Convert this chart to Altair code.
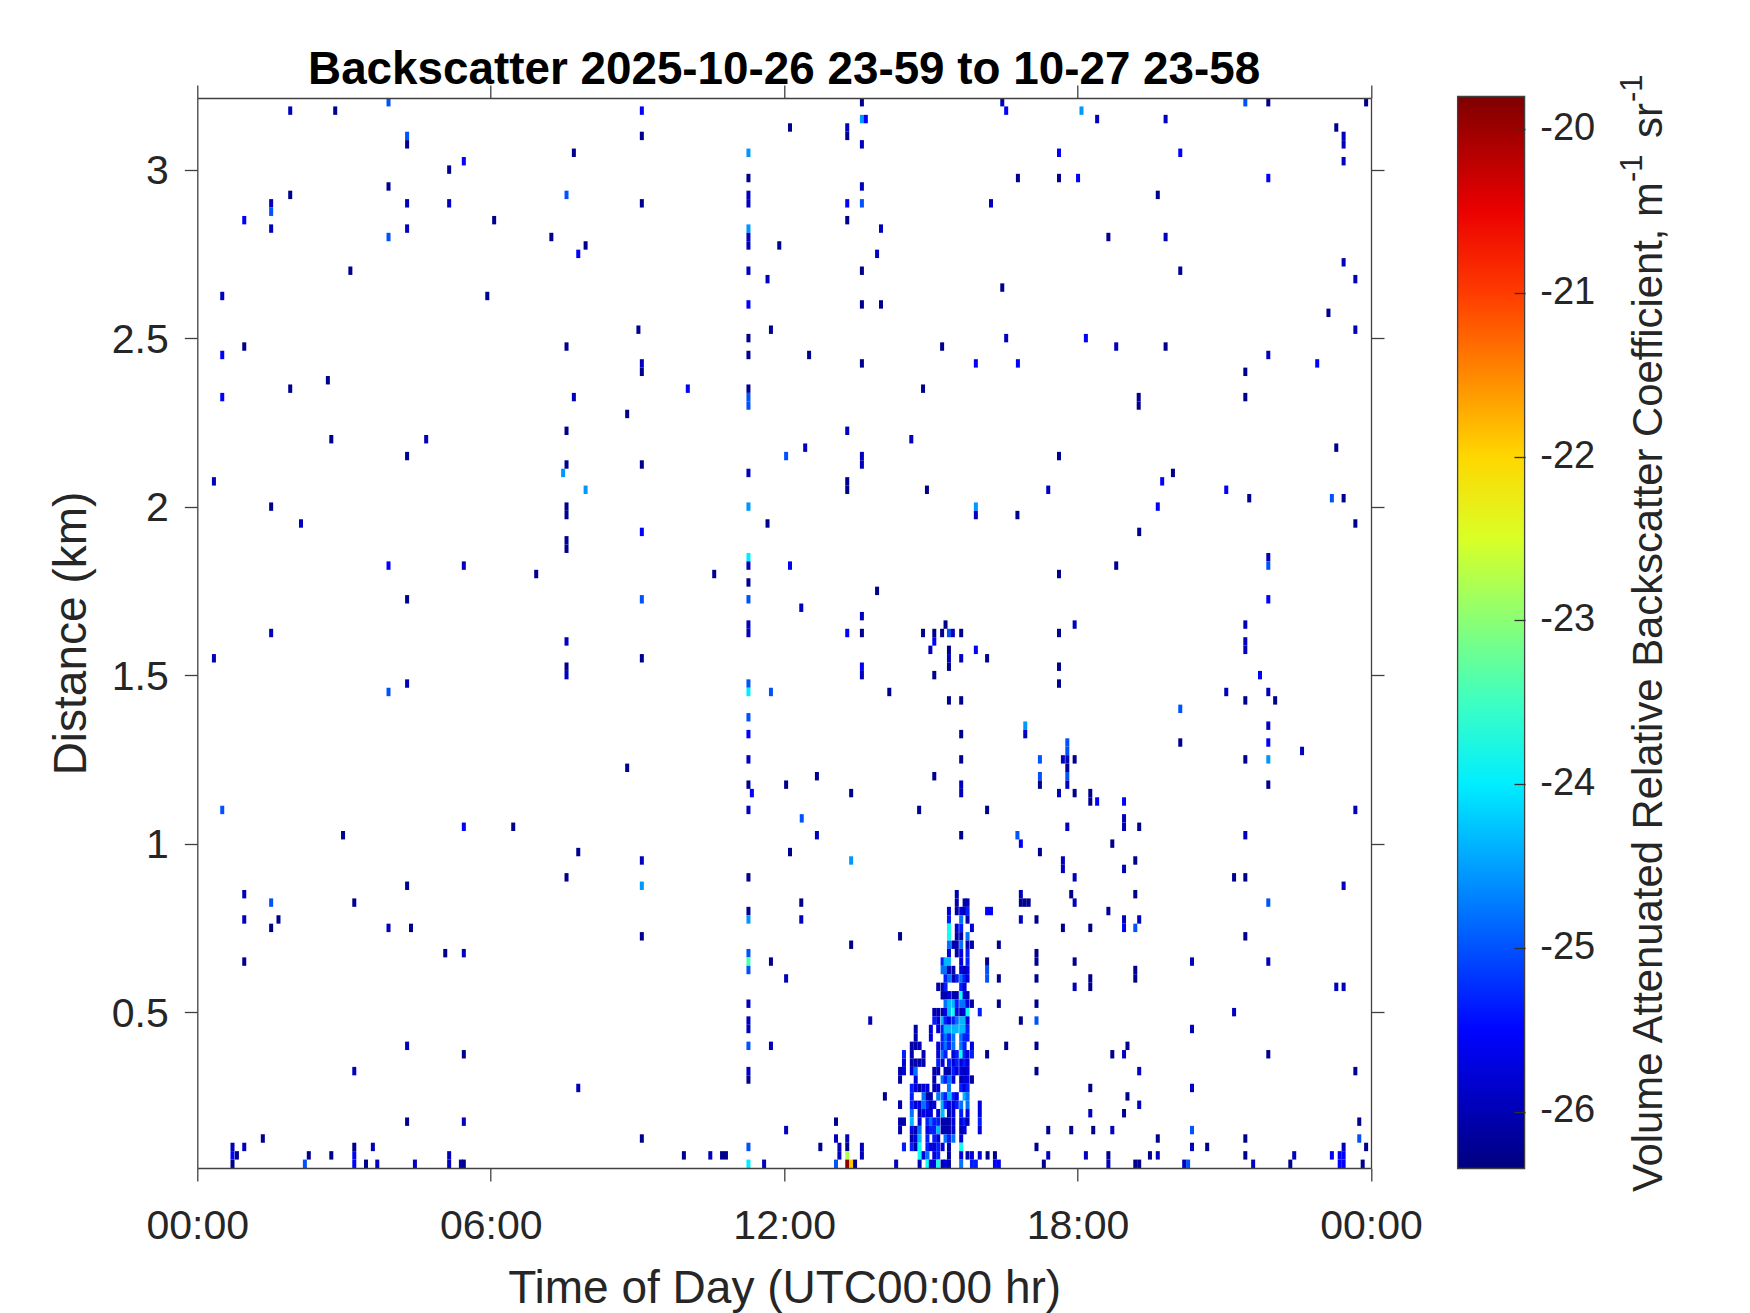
import altair as alt
import pandas as pd

# ---- colour levels (dB-like units of the bar) ----
D, N, B, L, S, C = -26.25, -25.95, -25.55, -25.0, -24.55, -24.0
GREEN, LIME, AMBER, DARKRED = -23.4, -22.8, -21.9, -19.9

TITLE = "Backscatter 2025-10-26 23-59 to 10-27 23-58"
X_TITLE = "Time of Day (UTC00:00 hr)"
Y_TITLE = "Distance (km)"
CB_TITLE = "Volume Attenuated Relative Backscatter Coefficient, m"
X_TICKS = [0, 6, 12, 18, 24]
Y_TICKS = [0.5, 1, 1.5, 2, 2.5, 3]
CB_TICKS = [-26, -25, -24, -23, -22, -21, -20]
CB_DOMAIN = [-26.35, -25.53, -23.89, -22.26, -20.62, -19.8]
CB_COLORS = ["#00007f", "#0000ff", "#00ffff", "#ffff00", "#ff0000", "#7f0000"]

# (hour, km, value)
CELLS_TOP_LEFT = [
    (1.90,3.175,N),(2.82,3.175,D),(3.91,3.2,L),(4.29,3.1,L),(4.29,3.075,D),(7.70,3.05,D),(5.45,3.025,B),
    (5.15,3.0,D),(3.91,2.95,D),(1.90,2.925,D),(7.55,2.925,L),(1.51,2.9,N),(1.51,2.875,L),(4.29,2.9,N),
    (5.15,2.9,N),(0.96,2.85,B),(6.07,2.85,D),(1.51,2.825,N),(4.29,2.825,N),(3.91,2.8,L),(7.24,2.8,D),
    (7.94,2.775,D),(7.79,2.75,B),(3.13,2.7,D),(0.51,2.625,N),(5.93,2.625,D),(0.96,2.475,D),(7.55,2.475,D),
    (0.51,2.45,B),(2.67,2.375,D),(1.90,2.35,D),(0.51,2.325,B),(7.70,2.325,N),(7.55,2.225,D),(2.74,2.2,D),
    (4.68,2.2,N),(4.29,2.15,D),
]
CELLS_TOP_CENTER = [
    (9.09,3.175,B),(13.59,3.2,D),(13.59,3.15,S),(13.67,3.15,B),(12.12,3.125,D),(13.29,3.125,N),(13.29,3.1,D),
    (9.09,3.1,D),(13.59,3.075,N),(11.27,3.05,S),(11.27,2.975,D),(13.59,2.95,N),(11.27,2.925,N),(11.27,2.9,N),
    (9.09,2.9,D),(13.29,2.9,B),(13.59,2.9,L),(13.29,2.85,D),(11.27,2.825,S),(11.27,2.8,N),(11.27,2.775,N),
    (13.98,2.825,N),(11.90,2.775,D),(13.90,2.75,N),(11.27,2.7,N),(13.59,2.7,D),(11.66,2.675,N),(11.27,2.6,B),
    (13.59,2.6,D),(13.98,2.6,D),(9.02,2.525,D),(11.73,2.525,D),(11.27,2.5,D),(15.23,2.475,D),(11.27,2.45,D),
    (12.51,2.45,D),(9.09,2.425,N),(9.09,2.4,D),(13.59,2.425,D),(15.92,2.425,B),(10.03,2.35,B),(11.27,2.35,D),
    (11.27,2.325,L),(11.27,2.3,L),(14.84,2.35,D),(8.79,2.275,D),(13.29,2.225,N),(14.60,2.2,N),(12.43,2.175,N),
    (12.04,2.15,L),(13.59,2.15,N),
]
CELLS_TOP_RIGHT = [
    (16.46,3.2,N),(16.54,3.175,B),(18.08,3.175,S),(18.40,3.15,N),(19.80,3.15,N),(21.43,3.2,L),(21.90,3.2,D),
    (23.90,3.2,D),(23.29,3.125,D),(23.44,3.1,N),(23.44,3.075,N),(17.62,3.05,B),(20.10,3.05,B),(23.44,3.025,N),
    (16.78,2.975,D),(17.62,2.975,D),(18.01,2.975,B),(21.90,2.975,B),(19.64,2.925,D),(16.23,2.9,N),(18.63,2.8,D),
    (19.80,2.8,N),(23.44,2.725,N),(20.10,2.7,D),(23.68,2.675,N),(16.46,2.65,D),(23.13,2.575,D),(23.68,2.525,N),
    (16.54,2.5,N),(18.17,2.5,B),(18.79,2.475,N),(19.80,2.475,D),(21.90,2.45,N),(16.78,2.425,B),(22.90,2.425,B),
    (21.43,2.4,D),(19.25,2.325,D),(19.25,2.3,D),(21.43,2.325,D),(17.62,2.15,D),(23.29,2.175,D),
]
CELLS_MID_LEFT = [
    (7.55,2.125,D),(7.48,2.1,S),(0.34,2.075,N),(7.94,2.05,S),(1.51,2.0,D),(7.55,2.0,D),(7.55,1.975,D),(2.12,1.95,N),
    (7.55,1.9,D),(7.55,1.875,D),(3.91,1.825,B),(5.45,1.825,N),(6.93,1.8,D),(4.29,1.725,D),(7.55,1.6,N),(1.51,1.625,N),
    (0.34,1.55,N),(7.55,1.525,D),(7.55,1.5,N),(4.29,1.475,N),(3.91,1.45,L),(0.51,1.1,L),
]
CELLS_MID_CENTER = [
    (9.09,2.125,D),(11.27,2.1,N),(13.59,2.125,N),(13.29,2.075,D),(13.29,2.05,D),(14.92,2.05,D),(11.27,2.0,S),(15.92,2.0,S),
    (15.92,1.975,N),(11.66,1.95,D),(9.09,1.925,B),(11.27,1.85,C),(11.27,1.825,N),(12.12,1.825,B),(10.57,1.8,D),(11.27,1.775,D),
    (13.90,1.75,D),(9.09,1.725,L),(11.27,1.725,L),(12.35,1.7,N),(13.59,1.675,N),(15.30,1.65,D),(11.27,1.65,N),(11.27,1.625,N),
    (13.29,1.625,B),(13.59,1.625,D),(14.84,1.625,D),(15.07,1.625,D),(15.23,1.625,D),(15.37,1.625,L),(15.45,1.625,N),(15.62,1.625,D),
    (15.07,1.6,B),(14.99,1.575,N),(15.37,1.575,D),(15.37,1.55,N),(15.37,1.525,D),(15.92,1.575,B),(15.62,1.55,N),(9.09,1.55,D),
    (13.59,1.525,B),(13.59,1.5,N),(15.07,1.5,D),(11.27,1.475,L),(11.27,1.45,C),(11.73,1.45,L),(14.15,1.45,D),(15.37,1.425,D),
    (15.62,1.425,D),(11.27,1.375,L),(11.27,1.325,B),(15.62,1.325,D),(11.27,1.25,N),(15.62,1.25,D),(8.79,1.225,D),(12.67,1.2,D),
    (15.07,1.2,D),(11.27,1.175,D),(12.04,1.175,D),(15.62,1.175,N),(15.62,1.15,N),(11.34,1.15,B),(13.37,1.15,D),(11.27,1.1,N),(14.76,1.1,D),
]
CELLS_MID_RIGHT = [
    (19.95,2.1,D),(19.73,2.075,B),(17.40,2.05,N),(21.04,2.05,B),(21.51,2.025,D),(23.20,2.025,L),(23.44,2.025,D),(19.64,2.0,B),
    (16.77,1.975,D),(23.68,1.95,D),(19.26,1.925,D),(21.90,1.85,N),(21.90,1.825,L),(18.79,1.825,D),(17.62,1.8,D),(21.90,1.725,B),
    (17.94,1.65,N),(21.43,1.65,N),(17.62,1.625,D),(21.43,1.6,N),(21.43,1.575,N),(16.15,1.55,D),(17.62,1.525,D),(17.62,1.475,D),
    (21.73,1.5,B),(21.04,1.45,N),(21.90,1.45,N),(21.43,1.425,D),(22.04,1.425,D),(20.10,1.4,L),(16.93,1.35,S),(16.93,1.325,N),
    (21.90,1.35,N),(17.79,1.3,L),(17.79,1.275,L),(17.79,1.25,N),(17.79,1.225,D),(17.79,1.2,L),(17.79,1.175,N),(17.70,1.25,N),
    (17.94,1.25,D),(17.23,1.25,L),(17.23,1.2,L),(17.23,1.175,D),(20.10,1.3,D),(21.90,1.3,B),(22.59,1.275,N),(21.43,1.25,D),
    (21.90,1.25,S),(21.90,1.175,D),(17.62,1.15,N),(17.94,1.15,D),(18.26,1.15,D),(18.26,1.125,D),(18.40,1.125,B),(18.95,1.125,B),
    (16.15,1.1,D),(23.68,1.1,N),
]
CELLS_LOW_LEFT = [
    (5.45,1.05,B),(6.46,1.05,D),(2.98,1.025,D),(7.79,0.975,D),(7.55,0.9,D),(4.29,0.875,D),(0.96,0.85,N),(1.51,0.825,L),
    (3.21,0.825,D),(0.96,0.775,N),(1.66,0.775,D),(1.51,0.75,D),(3.91,0.75,N),(4.37,0.75,D),(5.07,0.675,D),(5.45,0.675,N),
    (0.96,0.65,D),(4.29,0.4,N),(5.45,0.375,D),(3.21,0.325,N),(7.79,0.275,N),(4.29,0.175,D),(5.45,0.175,N),(1.34,0.125,D),
    (0.72,0.1,N),(0.72,0.075,B),(0.72,0.05,D),(0.81,0.075,D),(0.96,0.1,N),(2.28,0.075,D),(2.20,0.05,L),(2.74,0.075,D),
    (3.21,0.1,D),(3.21,0.075,B),(3.21,0.05,B),(3.59,0.1,N),(3.45,0.05,D),(3.68,0.05,N),(4.45,0.05,N),(5.15,0.075,N),
    (5.15,0.05,N),(5.39,0.05,N),(5.45,0.05,D),
]
CELLS_LOW_CENTER = [
    (9.09,0.95,N),(13.37,0.95,S),(12.36,1.075,L),(12.67,1.025,N),(15.62,1.025,D),(12.12,0.975,D),(11.27,0.9,D),(9.09,0.875,S),
    (12.35,0.825,D),(11.27,0.8,D),(11.27,0.775,S),(12.35,0.775,N),(9.09,0.725,D),(14.37,0.725,D),(13.37,0.7,D),(11.27,0.675,L),
    (11.27,0.65,GREEN),(11.27,0.625,L),(11.73,0.65,D),(12.04,0.6,N),(11.27,0.525,N),(11.27,0.475,N),(11.27,0.45,N),(13.76,0.475,N),
    (11.27,0.4,L),(11.73,0.4,N),(11.27,0.325,N),(11.27,0.3,D),(14.06,0.25,D),(14.37,0.225,D),(9.09,0.125,D),(12.04,0.15,N),
    (11.27,0.1,L),(11.27,0.05,C),(9.95,0.075,D),(10.49,0.075,N),(10.73,0.075,D),(10.81,0.075,D),(11.59,0.05,N),(12.74,0.1,D),
    (13.06,0.175,D),(13.06,0.125,N),(13.13,0.1,N),(13.13,0.075,N),(13.06,0.05,L),(13.29,0.125,N),(13.29,0.1,D),(13.29,0.075,LIME),
    (13.29,0.05,DARKRED),(13.37,0.05,AMBER),(13.45,0.05,D),(13.59,0.1,N),(13.59,0.075,N),(14.29,0.05,N),(14.45,0.1,N),
]
CELLS_LOW_RIGHT = [
    (17.79,1.05,N),(18.95,1.075,N),(18.95,1.05,N),(19.26,1.05,D),(16.77,1.025,L),(16.84,1.0,B),(18.71,1.0,D),(21.43,1.025,N),
    (17.23,0.975,D),(17.70,0.95,N),(17.70,0.925,N),(19.18,0.95,D),(18.95,0.925,N),(17.94,0.9,N),(21.20,0.9,D),(21.43,0.9,D),
    (23.44,0.875,N),(16.84,0.85,N),(17.87,0.85,D),(19.18,0.85,D),(16.84,0.825,D),(16.92,0.825,D),(17.00,0.825,D),(17.94,0.825,N),
    (21.90,0.825,L),(16.15,0.8,B),(16.23,0.8,B),(18.63,0.8,D),(16.84,0.775,N),(17.16,0.775,D),(18.95,0.775,N),(18.95,0.75,B),
    (19.26,0.775,N),(19.18,0.75,L),(17.70,0.75,D),(18.26,0.75,D),(21.43,0.725,D),(16.39,0.7,D),(17.16,0.675,D),(17.16,0.65,D),
    (16.15,0.65,D),(16.15,0.625,L),(16.15,0.6,L),(17.94,0.65,D),(20.34,0.65,N),(21.90,0.65,N),(16.39,0.6,D),(17.16,0.6,D),
    (18.26,0.6,D),(18.26,0.575,D),(19.18,0.625,D),(19.18,0.6,D),(17.94,0.575,N),(23.29,0.575,N),(23.44,0.575,N),(16.39,0.525,D),
    (17.16,0.525,D),(21.20,0.5,N),(16.84,0.475,D),(17.16,0.475,L),(20.34,0.45,N),(16.54,0.4,D),(17.16,0.4,D),(19.02,0.4,D),
    (16.15,0.375,D),(18.71,0.375,D),(18.95,0.375,N),(21.90,0.375,D),(17.16,0.325,D),(19.26,0.325,N),(23.68,0.325,D),(18.26,0.275,D),
    (20.34,0.275,N),(19.02,0.25,D),(19.26,0.225,N),(18.26,0.2,N),(18.95,0.2,D),(17.40,0.15,D),(17.87,0.15,D),(18.32,0.15,D),
    (18.71,0.15,N),(20.34,0.15,L),(23.76,0.175,D),(19.64,0.125,D),(21.43,0.125,D),(23.76,0.125,L),(17.16,0.1,D),(20.34,0.1,N),
    (20.65,0.1,D),(23.44,0.1,N),(23.90,0.1,D),(16.16,0.075,D),(16.31,0.075,D),(16.31,0.05,B),(16.39,0.05,B),(17.40,0.075,N),
    (17.31,0.05,D),(18.17,0.075,N),(18.63,0.075,D),(18.63,0.05,N),(19.48,0.075,D),(19.64,0.075,N),(19.18,0.05,D),(19.26,0.05,D),
    (20.18,0.05,N),(20.26,0.05,L),(21.43,0.075,D),(21.59,0.05,N),(22.35,0.05,D),(22.43,0.075,N),(23.20,0.075,B),(23.36,0.075,B),
    (23.44,0.075,B),(23.36,0.05,B),(23.44,0.05,B),(23.83,0.05,D),
]
# the plume: one entry per range gate, (km, [(hour, value), ...])
PLUME_UPPER = [
    (0.85,[(15.53,D)]),
    (0.825,[(15.53,D),(15.69,D),(15.75,D)]),
    (0.8,[(15.37,N),(15.53,D),(15.62,N),(15.69,D),(15.75,B)]),
    (0.775,[(15.37,B),(15.62,L),(15.75,D)]),
    (0.75,[(15.37,C),(15.53,N),(15.62,B),(15.84,N)]),
    (0.725,[(15.37,C),(15.53,D),(15.62,D),(15.75,L)]),
    (0.7,[(15.37,L),(15.46,D),(15.53,D),(15.62,L),(15.75,D),(15.84,D)]),
    (0.675,[(15.37,N),(15.53,D),(15.62,N),(15.75,B)]),
    (0.65,[(15.24,B),(15.30,S),(15.37,S),(15.62,N),(15.75,B)]),
    (0.625,[(15.24,L),(15.30,L),(15.37,D),(15.46,D),(15.62,N),(15.69,D),(15.75,N)]),
    (0.6,[(15.30,B),(15.37,L),(15.46,D),(15.53,B),(15.62,L),(15.69,B),(15.75,N)]),
    (0.575,[(15.15,D),(15.24,D),(15.30,B),(15.62,B),(15.69,N)]),
    (0.55,[(15.24,D),(15.30,D),(15.37,N),(15.46,D),(15.53,D),(15.62,C),(15.69,N),(15.75,D)]),
    (0.525,[(15.30,L),(15.37,S),(15.46,S),(15.53,B),(15.62,L),(15.69,L),(15.75,N),(15.84,D)]),
    (0.5,[(15.07,D),(15.15,D),(15.24,D),(15.30,N),(15.37,S),(15.46,C),(15.53,N),(15.62,D),(15.69,N),(15.75,C),(16.0,B)]),
    (0.475,[(15.07,B),(15.15,N),(15.24,S),(15.30,B),(15.37,N),(15.46,B),(15.53,L),(15.62,S),(15.69,S),(15.75,N)]),
    (0.45,[(14.69,D),(15.0,N),(15.15,N),(15.24,B),(15.30,S),(15.37,S),(15.46,S),(15.53,S),(15.62,S),(15.69,S),(15.75,B)]),
    (0.425,[(14.69,D),(15.0,N),(15.24,B),(15.30,L),(15.37,B),(15.46,L),(15.62,L),(15.69,B),(15.75,B)]),
]
PLUME_LOWER = [
    (0.4,[(14.61,D),(14.69,D),(14.77,D),(15.15,N),(15.24,B),(15.30,L),(15.37,B),(15.46,L),(15.62,L),(15.69,B),(15.84,N)]),
    (0.375,[(14.45,B),(14.61,D),(14.85,D),(15.15,N),(15.24,L),(15.30,B),(15.46,N),(15.53,B),(15.62,C),(15.69,B),(15.75,N),(15.84,B)]),
    (0.35,[(14.45,N),(14.61,D),(14.69,D),(14.77,D),(14.85,D),(15.15,B),(15.24,N),(15.37,B),(15.46,N),(15.53,B),(15.62,N),(15.69,B),(15.75,N)]),
    (0.325,[(14.37,D),(14.45,N),(14.61,N),(14.69,L),(15.07,D),(15.15,D),(15.30,D),(15.37,D),(15.46,B),(15.53,N),(15.62,N),(15.69,D),(15.75,N)]),
    (0.3,[(14.37,D),(14.69,N),(15.07,D),(15.24,L),(15.30,B),(15.37,L),(15.46,N),(15.62,D),(15.69,N),(15.75,N),(15.84,D)]),
    (0.275,[(14.61,B),(14.69,N),(14.77,D),(14.85,N),(14.93,N),(15.07,D),(15.15,N),(15.37,L),(15.62,B),(15.69,N),(15.75,B)]),
    (0.25,[(14.61,B),(14.85,L),(14.93,D),(15.0,D),(15.15,L),(15.24,L),(15.30,B),(15.37,S),(15.46,B),(15.53,N),(15.69,S),(15.75,L)]),
    (0.225,[(14.37,D),(14.61,B),(14.69,N),(14.77,N),(14.85,L),(14.93,B),(15.0,D),(15.07,N),(15.24,S),(15.30,B),(15.37,N),(15.46,N),(15.53,B),(15.62,L),(15.75,L),(16.0,N)]),
    (0.2,[(14.61,L),(14.77,D),(14.85,N),(14.93,N),(15.0,N),(15.15,N),(15.24,S),(15.37,D),(15.46,N),(15.62,B),(15.75,N),(16.0,N)]),
    (0.175,[(14.37,D),(14.45,D),(14.61,S),(14.77,N),(14.93,B),(15.0,L),(15.07,B),(15.15,B),(15.24,D),(15.30,D),(15.37,D),(15.46,N),(15.62,N),(15.69,B),(15.75,D),(16.0,B)]),
    (0.15,[(14.37,D),(14.61,N),(14.69,D),(14.77,L),(14.93,N),(15.0,B),(15.07,B),(15.15,S),(15.24,D),(15.30,D),(15.37,D),(15.46,N),(15.62,D),(15.69,N),(16.0,N)]),
    (0.125,[(14.61,D),(14.69,N),(14.77,S),(14.93,B),(15.07,B),(15.15,N),(15.30,L),(15.37,B),(15.46,L),(15.62,N)]),
    (0.1,[(14.45,B),(14.61,B),(14.69,D),(14.77,C),(14.93,B),(15.0,N),(15.07,N),(15.15,B),(15.24,N),(15.37,D),(15.62,C)]),
    (0.075,[(14.77,C),(14.85,N),(14.93,L),(15.07,N),(15.15,B),(15.37,D),(15.62,N),(15.75,D),(15.84,N),(16.0,N)]),
    (0.05,[(14.77,D),(14.93,C),(15.0,N),(15.07,N),(15.15,C),(15.24,D),(15.30,N),(15.37,D),(15.62,L),(15.84,B),(15.92,B)]),
]

rows = (CELLS_TOP_LEFT + CELLS_TOP_CENTER + CELLS_TOP_RIGHT + CELLS_MID_LEFT + CELLS_MID_CENTER
        + CELLS_MID_RIGHT + CELLS_LOW_LEFT + CELLS_LOW_CENTER + CELLS_LOW_RIGHT)
for km, cells in PLUME_UPPER + PLUME_LOWER:
    rows += [(h, km, v + 0.2) for h, v in cells]

df = pd.DataFrame(rows, columns=["hour", "km", "value"])
HALF_BIN, HALF_GATE = 0.041, 0.0125
df["h0"] = df.hour - HALF_BIN
df["h1"] = df.hour + HALF_BIN
df["k0"] = df.km - HALF_GATE
df["k1"] = df.km + HALF_GATE

W, H = 1173.7, 1070
FONT = "Liberation Sans"
AX = "#404040"
TXT = "#262626"
x_scale = alt.Scale(domain=[0, 24], nice=False, zero=False)
y_scale = alt.Scale(domain=[0.0375, 3.2125], nice=False, zero=False)
axis_common = dict(domainColor=AX, domainWidth=1.3, tickColor=AX, tickWidth=1.3, tickSize=13, grid=False,
                   labelFont=FONT, labelColor=TXT, titleFont=FONT, titleColor=TXT, titleFontWeight="normal",
                   zindex=1)

cells = alt.Chart(df).mark_rect(strokeWidth=0).encode(
    x=alt.X("h0:Q", scale=x_scale, axis=alt.Axis(
        values=X_TICKS, title=X_TITLE, orient="bottom", labelFontSize=41, titleFontSize=46, labelPadding=25,
        titlePadding=20, labelFlush=False, labelOverlap=False,
        labelExpr="(datum.value % 24 < 10 ? '0' : '') + (datum.value % 24) + ':00'", **axis_common)),
    x2="h1:Q",
    y=alt.Y("k0:Q", scale=y_scale, axis=alt.Axis(
        values=Y_TICKS, title=Y_TITLE, orient="left", labelFontSize=41, titleFontSize=46, labelPadding=16,
        titlePadding=16, labelOffset=2, format="~g", labelFlush=False, labelOverlap=False, **axis_common)),
    y2="k1:Q",
    color=alt.Color("value:Q", scale=alt.Scale(domain=CB_DOMAIN, range=CB_COLORS, clamp=True, interpolate="rgb"),
                    legend=alt.Legend(
        orient="none", legendX=1260.3, legendY=-1.5, direction="vertical", title=None, values=CB_TICKS,
        gradientLength=1072, gradientThickness=67, gradientStrokeColor=AX, gradientStrokeWidth=1.3,
        labelFont=FONT, labelFontSize=38, labelColor=TXT, labelOffset=15.7, padding=0,
        labelExpr="'' + datum.value")),
)

frame = alt.Chart(pd.DataFrame({"hour": [0], "km": [1.0]})).mark_point(opacity=0).encode(
    x=alt.X("hour:Q", scale=x_scale, axis=alt.Axis(
        values=X_TICKS, title=None, orient="top", labels=False, **axis_common)),
    y=alt.Y("km:Q", scale=y_scale, axis=alt.Axis(
        values=Y_TICKS, title=None, orient="right", labels=False, **axis_common)),
)

# colour-bar tick marks: an axis on the bar's own scale, raised above the legend by zindex
cb_ticks = alt.Chart(pd.DataFrame({"cb": CB_TICKS})).mark_point(opacity=0).encode(
    y=alt.Y("cb:Q", scale=alt.Scale(domain=[-26.35, -19.8], range=[1071, -1.7], nice=False, zero=False),
            axis=alt.Axis(values=CB_TICKS, title=None, orient="left", labels=False, domain=False, grid=False,
                          tickColor="#303030", tickWidth=1.3, tickSize=11, offset=-1327.7, zindex=1)),
    x=alt.value(1300),
)


def vtext(text, x, y, size):
    return alt.Chart(pd.DataFrame({"t": [text]})).mark_text(
        angle=270, align="left", baseline="alphabetic", font=FONT, fontSize=size, color=TXT
    ).encode(text="t:N", x=alt.value(x), y=alt.value(y))


chart = alt.layer(
    cells, frame, cb_ticks,
    vtext(CB_TITLE, 1464.7, 1094, 41.8),
    vtext("-1", 1444.7, 84, 31),
    vtext("sr", 1464.7, 40, 41.8),
    vtext("-1", 1444.7, 4, 31),
).resolve_scale(x="independent", y="independent").resolve_axis(x="independent", y="independent").properties(
    width=W, height=H, autosize="none",
    padding={"left": 189.3, "top": 90, "right": 370, "bottom": 146},
    title=alt.TitleParams(TITLE, font=FONT, fontSize=45.8, fontWeight="bold", color="#000000", anchor="middle", offset=-19),
    background="white",
).configure_view(stroke=None)

chart.save("out.html", embed_options={"renderer": "svg", "actions": False})
